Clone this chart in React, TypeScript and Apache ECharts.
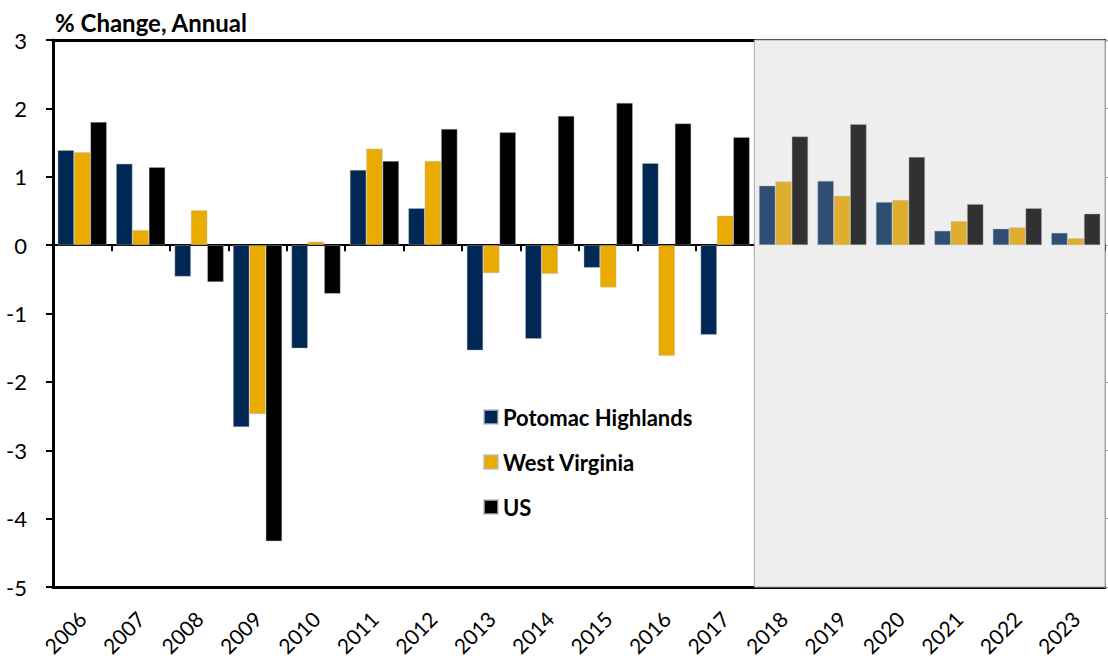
import React, { useEffect, useRef } from 'react';
import * as echarts from 'echarts';

const years = ['2006', '2007', '2008', '2009', '2010', '2011', '2012', '2013', '2014', '2015', '2016', '2017', '2018', '2019', '2020', '2021', '2022', '2023'];
const potomac = [1.39, 1.19, -0.46, -2.66, -1.51, 1.1, 0.54, -1.54, -1.37, -0.33, 1.2, -1.31, 0.87, 0.94, 0.63, 0.21, 0.24, 0.18];
const westVirginia = [1.36, 0.22, 0.51, -2.47, 0.05, 1.41, 1.23, -0.41, -0.42, -0.62, -1.62, 0.43, 0.93, 0.72, 0.66, 0.35, 0.26, 0.1];
const us = [1.8, 1.14, -0.54, -4.33, -0.71, 1.23, 1.7, 1.65, 1.89, 2.08, 1.78, 1.58, 1.59, 1.77, 1.29, 0.6, 0.54, 0.46];
const seriesNames = ['Potomac Highlands', 'West Virginia', 'US'];
const forecastStart = '2018';
const forecastEnd = '2023';
const yMin = -5;
const yMax = 3;
const yInterval = 1;
const titleText = '% Change, Annual';

const histColors = ['#002855', '#eaab00', '#000000'];
const fcstColors = ['#2f4e74', '#dfae2f', '#313131'];
const FONT = 'Lato, "Open Sans", sans-serif';

export default function App() {
  const ref = useRef<HTMLDivElement>(null);
  useEffect(() => {
    document.body.style.margin = '0';
    const chart = echarts.init(ref.current!, null, { renderer: 'svg' });
    const fIdx = years.indexOf(forecastStart);
    const mk = (vals: number[], i: number) =>
      vals.map((v, k) => ({
        value: v,
        itemStyle: { color: k >= fIdx ? fcstColors[i] : histColors[i] },
      }));
    const allData = [potomac, westVirginia, us];
    const series: any[] = allData.map((vals, i) => ({
      name: seriesNames[i],
      type: 'bar',
      xAxisIndex: 0,
      yAxisIndex: 0,
      data: mk(vals, i),
      itemStyle: { color: histColors[i], borderColor: 'rgba(190,190,190,0.7)', borderWidth: 0.6 },
      barGap: '0%',
      barCategoryGap: '16%',
      z: 3,
    }));
    series[0].markArea = {
      silent: true,
      z: 1,
      itemStyle: { color: '#eeeeee', borderColor: '#a8a8a8', borderWidth: 1 },
      data: [[{ xAxis: forecastStart }, { xAxis: forecastEnd }]],
    };
    chart.setOption({
      animation: false,
      textStyle: { fontFamily: FONT },
      title: {
        text: titleText,
        left: 50,
        top: 5,
        textStyle: { fontSize: 24, fontWeight: 'bold', color: '#000', fontFamily: FONT },
      },
      legend: {
        orient: 'vertical',
        left: 478,
        top: 401,
        itemWidth: 14,
        itemHeight: 14,
        itemGap: 23,
        icon: 'rect',
        data: seriesNames,
        textStyle: { fontSize: 22, fontWeight: 'bold', color: '#000', fontFamily: FONT },
      },
      grid: { left: 53, right: 3, top: 40, bottom: 75, containLabel: false },
      xAxis: [
        {
          type: 'category',
          data: years,
          position: 'bottom',
          axisLine: { onZero: false, lineStyle: { color: '#000', width: 3 } },
          axisTick: { show: false },
          axisLabel: { rotate: 45, fontSize: 21, color: '#000', margin: 28, interval: 0, fontFamily: FONT },
          splitLine: { show: false },
        },
        {
          type: 'category',
          data: years,
          position: 'bottom',
          axisLine: { onZero: true, lineStyle: { color: '#000', width: 2 } },
          axisTick: { show: true, length: 6, lineStyle: { color: '#000', width: 2 } },
          axisLabel: { show: false },
          splitLine: { show: false },
        },
        {
          type: 'category',
          data: years,
          position: 'top',
          axisLine: { onZero: false, lineStyle: { color: '#000', width: 3 } },
          axisTick: { show: false },
          axisLabel: { show: false },
          splitLine: { show: false },
        },
      ],
      yAxis: [
        {
          type: 'value',
          min: yMin,
          max: yMax,
          interval: yInterval,
          position: 'left',
          axisLine: { show: true, lineStyle: { color: '#000', width: 3 } },
          axisTick: { show: true, length: 7, lineStyle: { color: '#000', width: 2 } },
          axisLabel: { fontSize: 22, color: '#000', margin: 26, fontFamily: FONT },
          splitLine: { show: false },
        },
        {
          type: 'value',
          min: yMin,
          max: yMax,
          interval: yInterval,
          position: 'right',
          axisLine: { show: true, lineStyle: { color: '#9a9a9a', width: 1 } },
          axisTick: { show: true, length: 3, lineStyle: { color: '#9a9a9a', width: 1 } },
          axisLabel: { show: false },
          splitLine: { show: false },
        },
      ],
      series,
    });
    return () => chart.dispose();
  }, []);
  return <div ref={ref} style={{ width: 1108, height: 662 }} />;
}
